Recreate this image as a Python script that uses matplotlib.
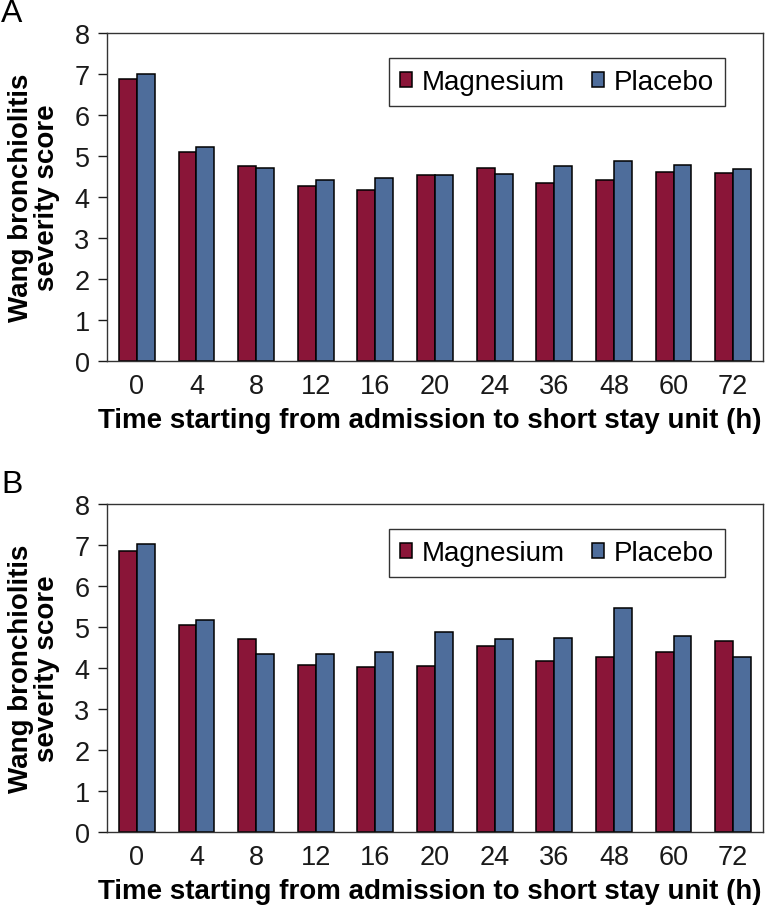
import matplotlib
matplotlib.use("Agg")
import matplotlib.pyplot as plt
import numpy as np

plt.rcParams['font.family'] = ['Liberation Sans', 'DejaVu Sans']

hours = ["0", "4", "8", "12", "16", "20", "24", "36", "48", "60", "72"]
series_names = ["Magnesium", "Placebo"]
mag_A = [6.87, 5.09, 4.76, 4.28, 4.16, 4.54, 4.70, 4.35, 4.41, 4.60, 4.59]
pla_A = [7.01, 5.23, 4.71, 4.41, 4.47, 4.54, 4.57, 4.76, 4.87, 4.79, 4.69]
mag_B = [6.85, 5.04, 4.71, 4.07, 4.03, 4.05, 4.54, 4.18, 4.26, 4.38, 4.65]
pla_B = [7.03, 5.17, 4.35, 4.35, 4.40, 4.89, 4.71, 4.73, 5.46, 4.78, 4.26]
panel_labels = ["A", "B"]
ylabel = "Wang bronchiolitis\nseverity score"
xlabel = "Time starting from admission to short stay unit (h)"

col_mag = "#8A1538"
col_pla = "#4E6D9B"

W, H = 766, 912
fig = plt.figure(figsize=(W / 100, H / 100), dpi=100)

def px_axes(left, top, right, bottom):
    return fig.add_axes([left / W, 1 - bottom / H, (right - left) / W, (bottom - top) / H])

panels = [
    (px_axes(107, 34, 763, 362), mag_A, pla_A, 34),
    (px_axes(107, 505, 763, 833), mag_B, pla_B, 505),
]

x = np.arange(len(hours))
bw = 0.3
for i, (ax, mag, pla, top) in enumerate(panels):
    ax.bar(x - bw / 2, mag, width=bw, color=col_mag, edgecolor="black",
           linewidth=1.1, label=series_names[0], zorder=2)
    ax.bar(x + bw / 2, pla, width=bw, color=col_pla, edgecolor="black",
           linewidth=1.1, label=series_names[1], zorder=2)
    ax.set_xlim(-0.5, len(hours) - 0.5)
    ax.set_ylim(0, 8)
    ax.set_yticks(range(0, 9))
    ax.set_xticks(x)
    ax.set_xticklabels(hours)
    ax.tick_params(axis="x", length=0, labelsize=19.5, pad=9, colors="#1a1a1a")
    ax.tick_params(axis="y", length=6.5, width=1, labelsize=19.5, pad=6, direction="out", colors="#1a1a1a")
    for s in ax.spines.values():
        s.set_linewidth(1.0)
        s.set_color("#333333")
    ax.set_ylabel(ylabel, fontsize=20, fontweight="bold", linespacing=1.0)
    ax.yaxis.set_label_coords((60 - 107) / 656, 0.5)
    ax.set_xlabel(xlabel, fontsize=20, fontweight="bold")
    ax.xaxis.set_label_coords((430 - 107) / 656, -(408 - 362) / 328)
    leg = ax.legend(loc="upper right", bbox_to_anchor=((725 - 107) / 656, 1 - 25 / 328),
                    ncol=2, fontsize=20, frameon=True, fancybox=False,
                    edgecolor="black", handlelength=0.45, handleheight=0.45,
                    handletextpad=0.35, columnspacing=0.95, borderpad=0.4,
                    borderaxespad=0)
    leg.get_frame().set_linewidth(1.0)
    fig.text(1 / W, 1 - (top - 35) / H, panel_labels[i], fontsize=23, va="top", ha="left")

fig.savefig("out.png", dpi=100)
